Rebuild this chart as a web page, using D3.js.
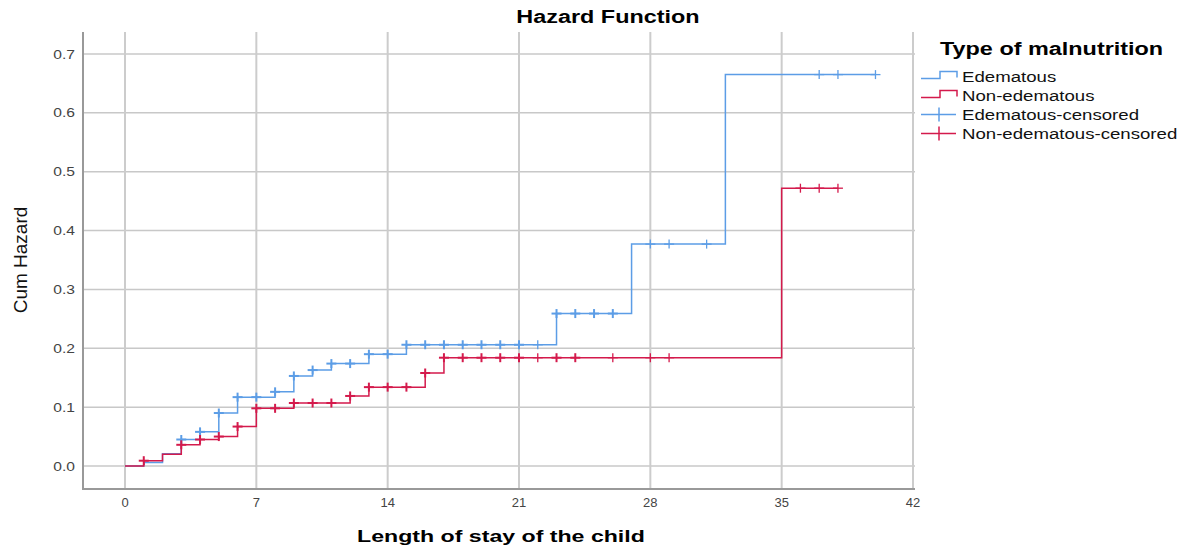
<!DOCTYPE html>
<html>
<head>
<meta charset="utf-8">
<script src="https://cdn.jsdelivr.net/npm/d3@7"></script>
<style>
  body { margin: 0; background: #fff; }
  text { font-family: "Liberation Sans", Arial, sans-serif; }
</style>
</head>
<body>
<svg id="chart" width="1186" height="550"></svg>
<script>
// cumulative hazard steps
var edemaTimes = [0, 1, 2, 3, 4, 5, 6, 8, 9, 10, 11, 13, 15, 23, 27, 32];
var edemaHazard = [0, 0.006, 0.021, 0.045, 0.058, 0.090, 0.117, 0.126, 0.153, 0.163, 0.174, 0.190, 0.206, 0.259, 0.377, 0.665];
var edemaEnd = 40;
var edemaCensored = [3, 4, 5, 6, 7, 8, 9, 10, 11, 12, 13, 14, 15, 16, 17, 18, 19, 20, 21, 22, 23, 24, 25, 26, 28, 29, 31, 37, 38, 40];
var edemaCensoredN = [2, 2, 2, 2, 2, 2, 2, 2, 2, 2, 2, 2, 2, 2, 2, 2, 2, 2, 2, 1, 2, 2, 2, 2, 1, 1, 1, 1, 1, 1];

var nonTimes = [0, 1, 2, 3, 4, 5, 6, 7, 9, 12, 13, 16, 17, 35];
var nonHazard = [0, 0.009, 0.020, 0.036, 0.045, 0.050, 0.067, 0.098, 0.107, 0.119, 0.134, 0.158, 0.184, 0.472];
var nonEnd = 38;
var nonCensored = [1, 3, 4, 5, 6, 7, 8, 9, 10, 11, 12, 13, 14, 15, 16, 17, 18, 19, 20, 21, 22, 23, 24, 26, 28, 29, 36, 37, 38];
var nonCensoredN = [2, 2, 2, 2, 2, 2, 2, 2, 2, 2, 2, 2, 2, 2, 2, 2, 2, 2, 2, 2, 1, 2, 2, 1, 1, 1, 1, 1, 1];

var xTicks = [0, 7, 14, 21, 28, 35, 42];
var yTicks = [0, 0.1, 0.2, 0.3, 0.4, 0.5, 0.6, 0.7];
var legendLabels = ["Edematous", "Non-edematous", "Edematous-censored", "Non-edematous-censored"];

var blue = "#5c9de6", red = "#d41a4c";
var frame = { left: 83, right: 915, top: 32, bottom: 489 };

var svg = d3.select("#chart");
var x = d3.scaleLinear().domain([0, 42]).range([125, 913]);
var y = d3.scaleLinear().domain([0, 0.7]).range([466, 54]);

// stretch text horizontally like the original export
function stretch(sel, k) {
  sel.each(function () {
    var w = this.getComputedTextLength();
    d3.select(this).attr("textLength", w * k).attr("lengthAdjust", "spacingAndGlyphs");
  });
}

// grid
svg.append("g").selectAll("line").data(yTicks).join("line")
  .attr("x1", frame.left).attr("x2", frame.right)
  .attr("y1", d => y(d)).attr("y2", d => y(d))
  .attr("stroke", "#c8c8c8").attr("stroke-width", 1.5);
svg.append("g").selectAll("line").data(xTicks).join("line")
  .attr("x1", d => x(d)).attr("x2", d => x(d))
  .attr("y1", frame.top).attr("y2", frame.bottom)
  .attr("stroke", "#cccccc").attr("stroke-width", 2);

// axis lines
svg.append("line").attr("x1", frame.left).attr("x2", frame.left)
  .attr("y1", frame.top).attr("y2", frame.bottom + 1)
  .attr("stroke", "#999").attr("stroke-width", 2);
svg.append("line").attr("x1", frame.left).attr("x2", frame.right)
  .attr("y1", frame.bottom).attr("y2", frame.bottom)
  .attr("stroke", "#999").attr("stroke-width", 2);

// tick labels
svg.append("g").selectAll("text").data(yTicks).join("text")
  .attr("x", 75).attr("y", d => y(d) + 4.5)
  .attr("text-anchor", "end").attr("font-size", 13).attr("fill", "#444")
  .text(d => d3.format(".1f")(d))
  .call(stretch, 1.2);
svg.append("g").selectAll("text").data(xTicks).join("text")
  .attr("x", d => x(d)).attr("y", 507)
  .attr("text-anchor", "middle").attr("font-size", 13).attr("fill", "#444")
  .text(d => d);

// titles
svg.append("text").attr("x", 608).attr("y", 23).attr("text-anchor", "middle")
  .attr("font-size", 18).attr("font-weight", "bold").text("Hazard Function")
  .call(stretch, 1.3);
svg.append("text").attr("x", 501).attr("y", 542).attr("text-anchor", "middle")
  .attr("font-size", 17).attr("font-weight", "bold").text("Length of stay of the child")
  .call(stretch, 1.36);
svg.append("text").attr("transform", "translate(27,260) rotate(-90)").attr("text-anchor", "middle")
  .attr("font-size", 19).attr("fill", "#111").text("Cum Hazard");

// step curves
function stepPoints(times, vals, end) {
  var pts = times.map((t, i) => [t, vals[i]]);
  pts.push([end, vals[vals.length - 1]]);
  return pts;
}
function valueAt(times, vals, t) {
  return vals[d3.bisectRight(times, t) - 1];
}
var line = d3.line().x(d => x(d[0])).y(d => y(d[1])).curve(d3.curveStepAfter);

var series = [
  { times: edemaTimes, vals: edemaHazard, end: edemaEnd, cens: edemaCensored, n: edemaCensoredN, color: blue },
  { times: nonTimes, vals: nonHazard, end: nonEnd, cens: nonCensored, n: nonCensoredN, color: red }
];

series.forEach(function (s) {
  svg.append("path").attr("d", line(stepPoints(s.times, s.vals, s.end)))
    .attr("fill", "none").attr("stroke", s.color).attr("stroke-width", 1.5);
  var g = svg.append("g").attr("stroke", s.color);
  s.cens.forEach(function (t, i) {
    var cx = x(t), cy = y(valueAt(s.times, s.vals, t));
    var w = s.n[i] > 1 ? 2 : 1.3;
    g.append("line").attr("x1", cx - 5).attr("x2", cx + 5).attr("y1", cy).attr("y2", cy).attr("stroke-width", w);
    g.append("line").attr("x1", cx).attr("x2", cx).attr("y1", cy - 4.5).attr("y2", cy + 4.5).attr("stroke-width", w);
  });
});

// legend
var leg = svg.append("g");
leg.append("text").attr("x", 940).attr("y", 55).attr("font-size", 18).attr("font-weight", "bold")
  .text("Type of malnutrition").call(stretch, 1.3);
var legColors = [blue, red, blue, red];
legendLabels.forEach(function (lab, i) {
  var cy = 76.5 + i * 19;
  if (i < 2) {
    leg.append("path")
      .attr("d", "M921," + (cy + 2) + "H940V" + (cy - 5) + "H957V" + (cy + 1))
      .attr("fill", "none").attr("stroke", legColors[i]).attr("stroke-width", 1.5);
  } else {
    leg.append("line").attr("x1", 921).attr("x2", 956).attr("y1", cy).attr("y2", cy)
      .attr("stroke", legColors[i]).attr("stroke-width", 1.5);
    leg.append("line").attr("x1", 939).attr("x2", 939).attr("y1", cy - 7).attr("y2", cy + 7)
      .attr("stroke", legColors[i]).attr("stroke-width", 1.5);
  }
  leg.append("text").attr("x", 962).attr("y", cy + 5).attr("font-size", 14).attr("fill", "#111")
    .text(lab).call(stretch, 1.33);
});
</script>
</body>
</html>
